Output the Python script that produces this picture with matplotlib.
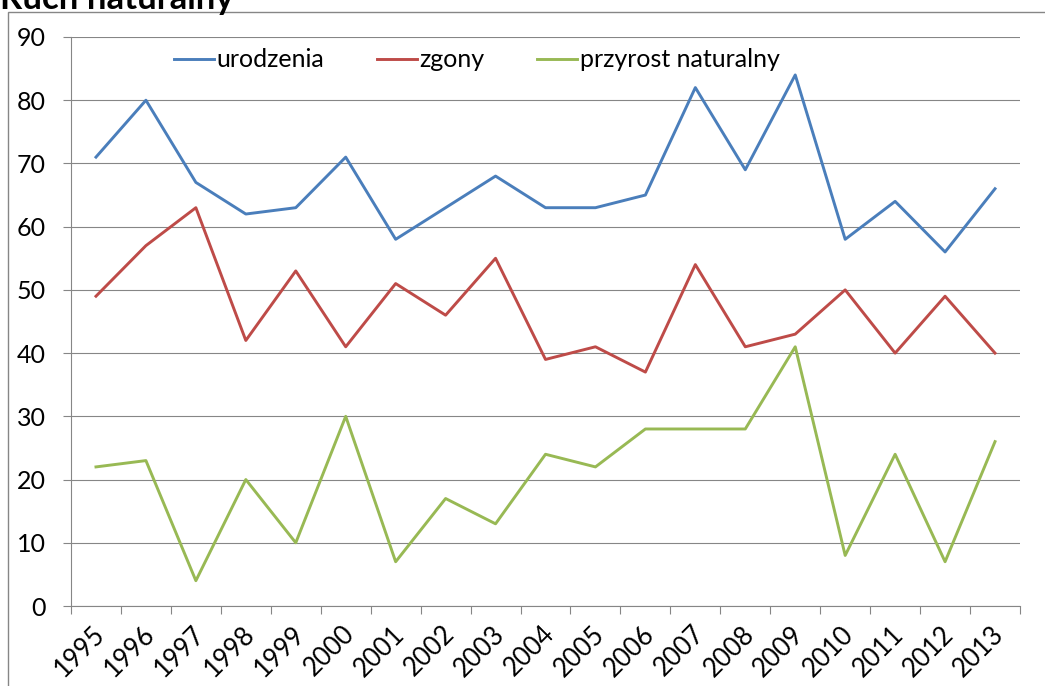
import numpy as np
import matplotlib
matplotlib.use("Agg")
import matplotlib.pyplot as plt
import matplotlib.transforms as mtransforms
from matplotlib.patches import Rectangle

# dane
lata = ["1995", "1996", "1997", "1998", "1999", "2000", "2001", "2002", "2003", "2004",
        "2005", "2006", "2007", "2008", "2009", "2010", "2011", "2012", "2013"]
urodzenia = [71, 80, 67, 62, 63, 71, 58, 63, 68, 63, 63, 65, 82, 69, 84, 58, 64, 56, 66]
zgony = [49, 57, 63, 42, 53, 41, 51, 46, 55, 39, 41, 37, 54, 41, 43, 50, 40, 49, 40]
przyrost = [22, 23, 4, 20, 10, 30, 7, 17, 13, 24, 22, 28, 28, 28, 41, 8, 24, 7, 26]

plt.rcParams['font.family'] = ['Lato', 'DejaVu Sans']

fig = plt.figure(figsize=(10.45, 6.86), dpi=100)
ax = fig.add_axes([71 / 1045, 1 - 606 / 686, 949 / 1045, (606 - 37) / 686])

x = np.arange(len(lata))
ax.plot(x, urodzenia, color='#4A7EBB', lw=2.1, label='urodzenia')
ax.plot(x, zgony, color='#BE4B48', lw=2.1, label='zgony')
ax.plot(x, przyrost, color='#98B954', lw=2.1, label='przyrost naturalny')

ax.set_xlim(-0.5, len(lata) - 0.5)
ax.set_ylim(0, 90)
ax.set_yticks(range(0, 91, 10))
ax.tick_params(axis='y', labelsize=18, length=6, color='#868686', pad=12)

# podziałki między kategoriami, etykiety na środku
ax.set_xticks(np.arange(-0.5, len(lata), 1))
ax.set_xticklabels([])
ax.set_xticks(x, minor=True)
ax.set_xticklabels(lata, minor=True, rotation=45, ha='right', rotation_mode='anchor', fontsize=18.5)
ax.tick_params(axis='x', which='major', length=6, color='#868686')
ax.tick_params(axis='x', which='minor', length=0, pad=11)
przes = mtransforms.ScaledTranslation(-4 / 100, 0, fig.dpi_scale_trans)
for lab in ax.get_xticklabels(minor=True):
    lab.set_transform(lab.get_transform() + przes)

ax.grid(axis='y', color='#868686', lw=0.8)
ax.set_axisbelow(True)
for s in ['top', 'right']:
    ax.spines[s].set_visible(False)
for s in ['left', 'bottom']:
    ax.spines[s].set_color('#868686')
    ax.spines[s].set_linewidth(0.8)

ax.legend(loc='center left', bbox_to_anchor=(0.085, 0.96), ncol=3, frameon=False,
          fontsize=18, handlelength=1.6, handletextpad=0.1, columnspacing=2.1)

# ramka wykresu i tytuł
fig.patches.append(Rectangle((8 / 1045, -0.1), 1.2, 1 - 12 / 686 + 0.1,
                             transform=fig.transFigure, fill=False,
                             edgecolor='#868686', lw=1.0))
fig.text(0.0, 1 - 9 / 686, 'Ruch naturalny', fontsize=25, fontweight='bold', va='baseline')

fig.savefig('out.png', dpi=100)
